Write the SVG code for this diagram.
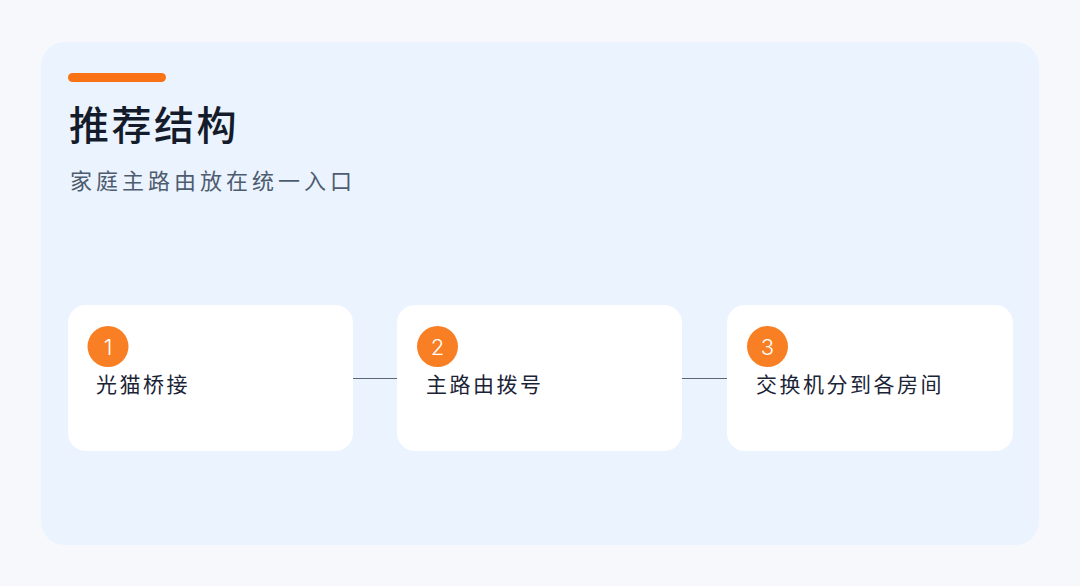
<svg xmlns="http://www.w3.org/2000/svg" width="1080" height="586" viewBox="0 0 1080 586">
<style>
.card{fill:#FFFFFF;}
.badge{fill:#F97F24;}
.num{font-family:Inter,"Noto Sans",sans-serif;font-size:22px;font-weight:300;fill:#FFFFFF;text-anchor:middle;}
.label{font-family:"Noto Sans CJK SC",sans-serif;font-size:21px;font-weight:400;fill:#1B2437;letter-spacing:2.5px;}
.conn{stroke:#5B6678;stroke-width:1.2;fill:none;}
</style>
<rect x="0" y="0" width="1080" height="586" fill="#F6F8FB"/>
<rect x="41" y="42" width="998" height="503" rx="24" fill="#EBF4FE"/>
<rect x="68" y="73" width="98" height="9" rx="4.5" fill="#F97316"/>
<text x="69" y="140" font-family="'Noto Sans CJK SC',sans-serif" font-size="40" font-weight="500" fill="#141C2B" letter-spacing="2.5">推荐结构</text>
<text x="70" y="189" font-family="'Noto Sans CJK SC',sans-serif" font-size="22" fill="#4E5C70" letter-spacing="4">家庭主路由放在统一入口</text>
<g id="connectors">
<line class="conn" x1="353" y1="378.5" x2="397" y2="378.5"/>
<line class="conn" x1="682" y1="378.5" x2="727" y2="378.5"/>
</g>
<g id="node1">
<rect class="card" x="68" y="305" width="285" height="146" rx="18"/>
<circle class="badge" cx="108" cy="346.5" r="20.5"/>
<text class="num" x="108" y="354.5">1</text>
<text class="label" x="96" y="392">光猫桥接</text>
</g>
<g id="node2">
<rect class="card" x="397" y="305" width="285" height="146" rx="18"/>
<circle class="badge" cx="437.5" cy="346.5" r="20.5"/>
<text class="num" x="437.5" y="354.5">2</text>
<text class="label" x="426" y="392">主路由拨号</text>
</g>
<g id="node3">
<rect class="card" x="727" y="305" width="286" height="146" rx="18"/>
<circle class="badge" cx="767.5" cy="346.5" r="20.5"/>
<text class="num" x="767.5" y="354.5">3</text>
<text class="label" x="756" y="392">交换机分到各房间</text>
</g>
</svg>
